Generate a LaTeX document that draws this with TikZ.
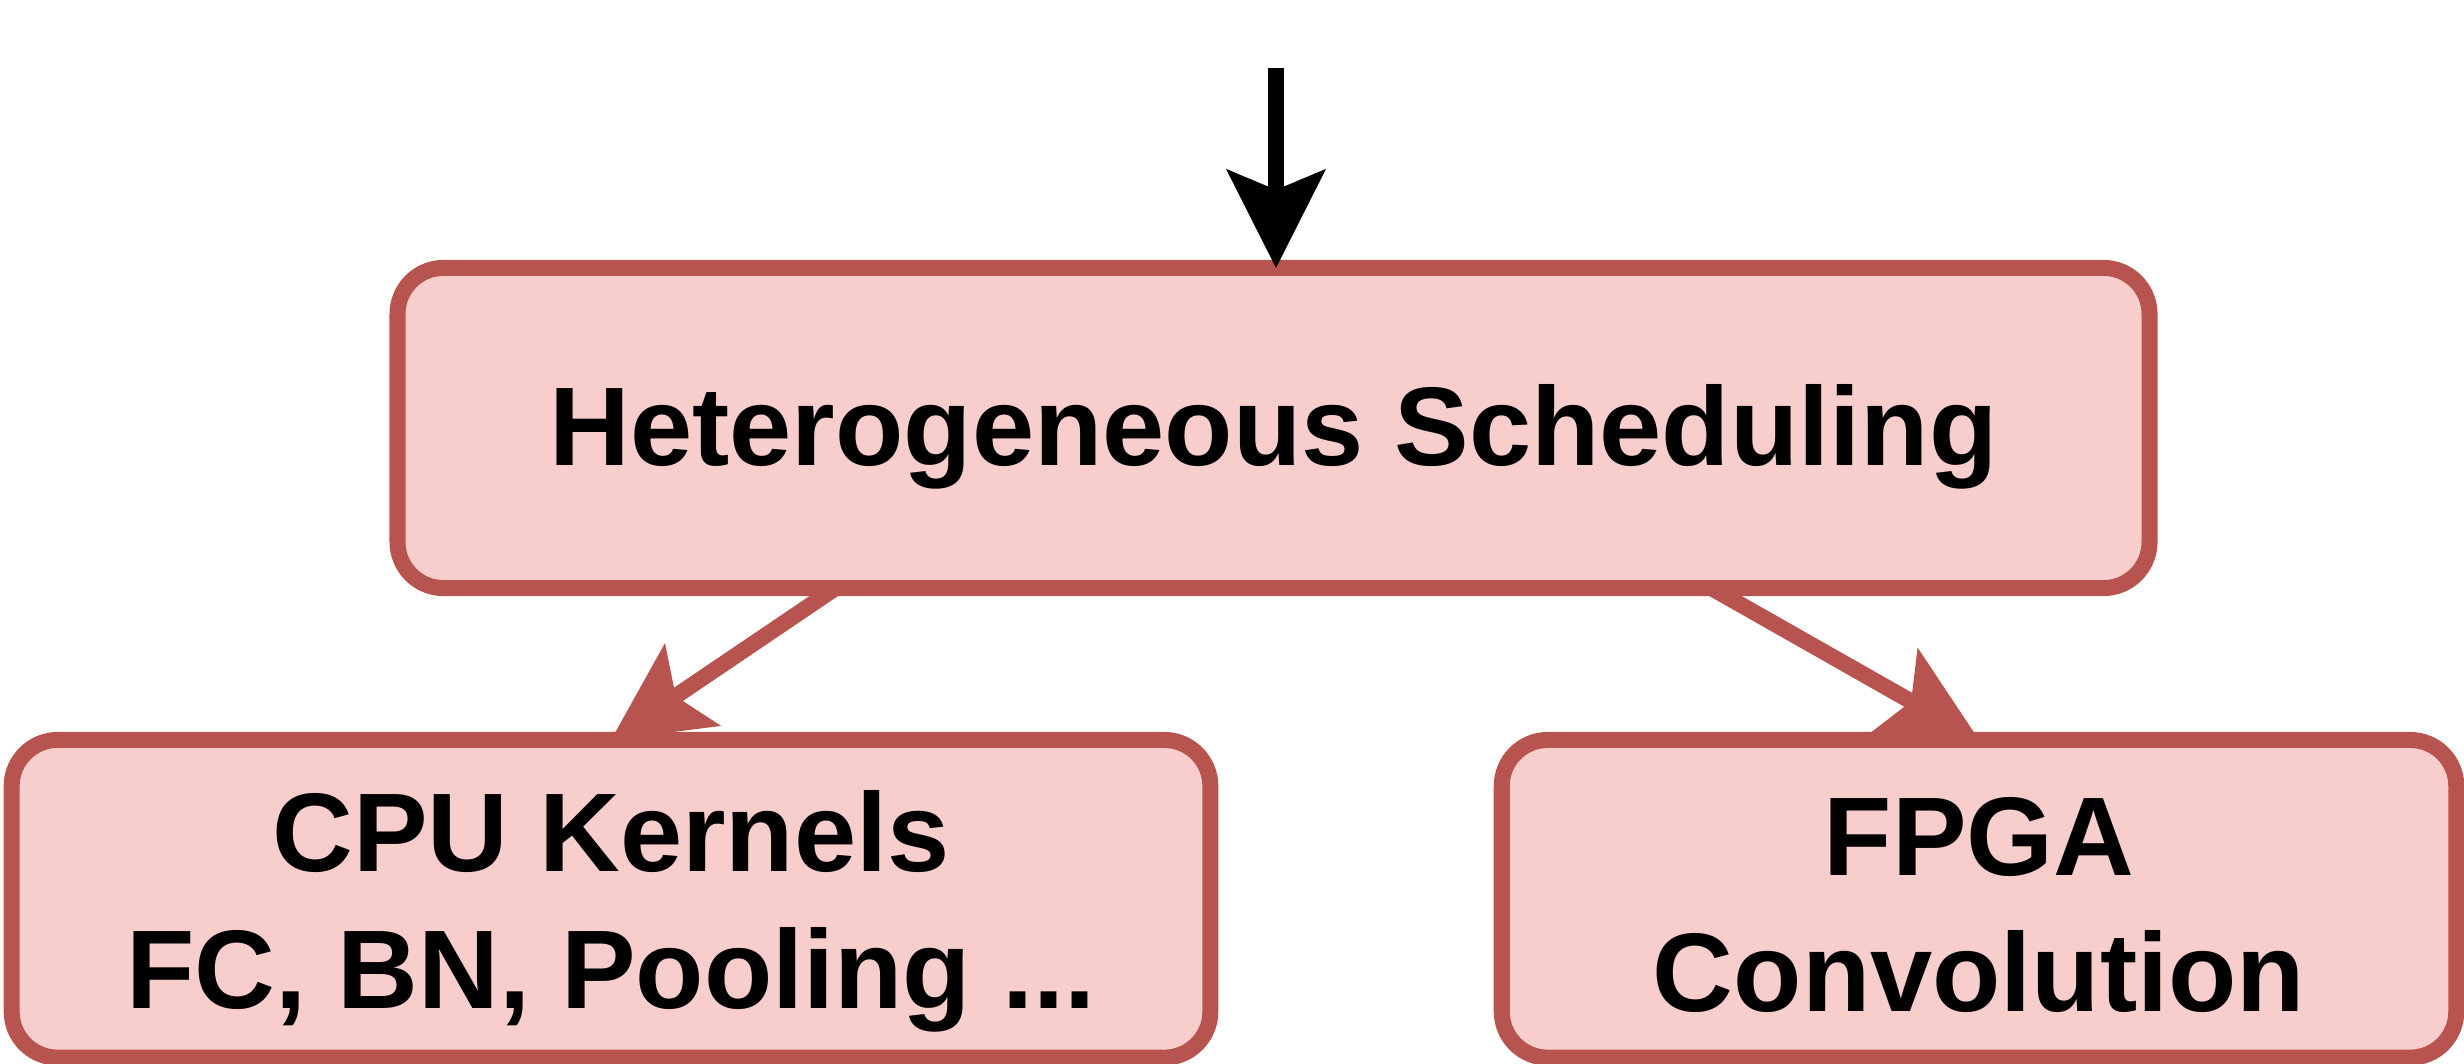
\documentclass[tikz,border=0pt]{standalone}
\usepackage{fontspec}
\setmainfont{Liberation Sans}
\usetikzlibrary{arrows.meta,calc}
\definecolor{boxfill}{HTML}{F8CECC}
\definecolor{boxline}{HTML}{B85450}
\newcommand{\topstrut}{\rule[-0.224cm]{0pt}{1.204cm}}
\newcommand{\lowstrut}{\rule[-0.172cm]{0pt}{1.232cm}}
\begin{document}
\begin{tikzpicture}[x=0.01cm,y=-0.01cm,
 box/.style={draw=boxline, fill=boxfill, line width=0.16cm, rounded corners=0.46cm, outer sep=0pt, inner sep=0pt, align=center, font=\bfseries\fontsize{31.8}{38.7}\selectfont},
 conn/.style={line width=0.16cm, -{Stealth[length=0.99cm,width=1.0cm,inset=0.21cm,line width=0pt]}}]
\useasboundingbox (0,0) rectangle (2464,1064);
\node[box, minimum width=17.51cm, minimum height=3.2cm] (sched) at (1273.5,428) {\topstrut Heterogeneous Scheduling};
\node[box, minimum width=11.98cm, minimum height=3.175cm] (cpu) at (611,898.8) {\lowstrut CPU Kernels\\\lowstrut FC, BN, Pooling ...};
\node[box, minimum width=9.54cm, minimum height=3.175cm] (fpga) at (1979,898.8) {\lowstrut FPGA\\\lowstrut Convolution};
\coordinate (in) at (1276,68);
\draw[conn, black] (in) -- (in |- sched.north);
\draw[conn, boxline] ($(sched.south west)!0.25!(sched.south east)$) -- (cpu.north);
\draw[conn, boxline] ($(sched.south west)!0.75!(sched.south east)$) -- (fpga.north);
\end{tikzpicture}
\end{document}
